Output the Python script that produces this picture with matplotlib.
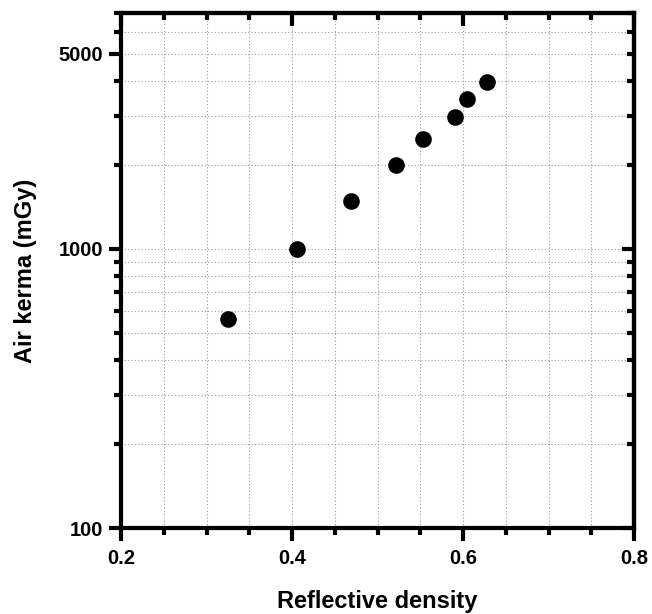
import numpy as np
import matplotlib.pyplot as plt
from matplotlib import ticker

# Reflective density vs air kerma
density = [0.325, 0.406, 0.469, 0.522, 0.553, 0.591, 0.605, 0.628]
air_kerma = [560, 1000, 1480, 2000, 2470, 2960, 3450, 3950]

x_major = [0.2, 0.4, 0.6, 0.8]
x_labels = ["0.2", "0.4", "0.6", "0.8"]
x_minor = [0.25, 0.3, 0.35, 0.45, 0.5, 0.55, 0.65, 0.7, 0.75]
y_major = [100, 1000, 5000]
y_labels = ["100", "1000", "5000"]

plt.rcParams['font.family'] = ['Liberation Sans', 'DejaVu Sans']
plt.rcParams['font.weight'] = 'bold'

LW = 3.0

fig = plt.figure(figsize=(6.52, 6.14), dpi=100)
ax = fig.add_axes([0.1856, 0.140, 0.7868, 0.8388])
ax.set_axisbelow(True)

ax.scatter(density, air_kerma, s=120, color='black', zorder=3, clip_on=False)

ax.set_yscale('log')
ax.set_xlim(0.2, 0.8)
ax.set_ylim(100, 7000)

ax.xaxis.set_major_locator(ticker.FixedLocator(x_major))
ax.xaxis.set_minor_locator(ticker.FixedLocator(x_minor))
ax.xaxis.set_major_formatter(ticker.FixedFormatter(x_labels))
ax.yaxis.set_major_locator(ticker.FixedLocator(y_major))
ax.yaxis.set_major_formatter(ticker.FixedFormatter(y_labels))
ax.yaxis.set_minor_locator(ticker.LogLocator(base=10, subs=np.arange(2, 10)))
ax.yaxis.set_minor_formatter(ticker.NullFormatter())

ax.grid(True, which='both', linestyle=(0, (1, 2)), color='#9a9a9a', linewidth=0.8)

for sp in ax.spines.values():
    sp.set_linewidth(LW)

ax.tick_params(which='major', direction='out', length=9, width=LW, labelsize=14.5, pad=4)
ax.tick_params(which='minor', direction='out', length=5, width=LW)
ax.tick_params(axis='x', which='major', pad=6)

# inward ticks on the top and right
top = ax.secondary_xaxis('top')
top.xaxis.set_major_locator(ticker.FixedLocator(x_major))
top.xaxis.set_minor_locator(ticker.FixedLocator(x_minor))
top.xaxis.set_major_formatter(ticker.NullFormatter())
top.tick_params(which='major', direction='in', length=9, width=LW, labeltop=False)
top.tick_params(which='minor', direction='in', length=5, width=LW)

right = ax.secondary_yaxis('right')
right.yaxis.set_major_locator(ticker.FixedLocator([100, 1000]))
right.yaxis.set_major_formatter(ticker.NullFormatter())
right.yaxis.set_minor_locator(ticker.LogLocator(base=10, subs=np.arange(2, 10)))
right.yaxis.set_minor_formatter(ticker.NullFormatter())
right.tick_params(which='major', direction='in', length=9, width=LW, labelright=False)
right.tick_params(which='minor', direction='in', length=5, width=LW)
for s in (top, right):
    s.set_zorder(10)
    for sp in s.spines.values():
        sp.set_linewidth(LW)

ax.set_xlabel("Reflective density", fontsize=17, fontweight='bold', labelpad=16)
ax.set_ylabel("Air kerma (mGy)", fontsize=17, fontweight='bold', labelpad=15)

fig.savefig("out.png", dpi=100)
